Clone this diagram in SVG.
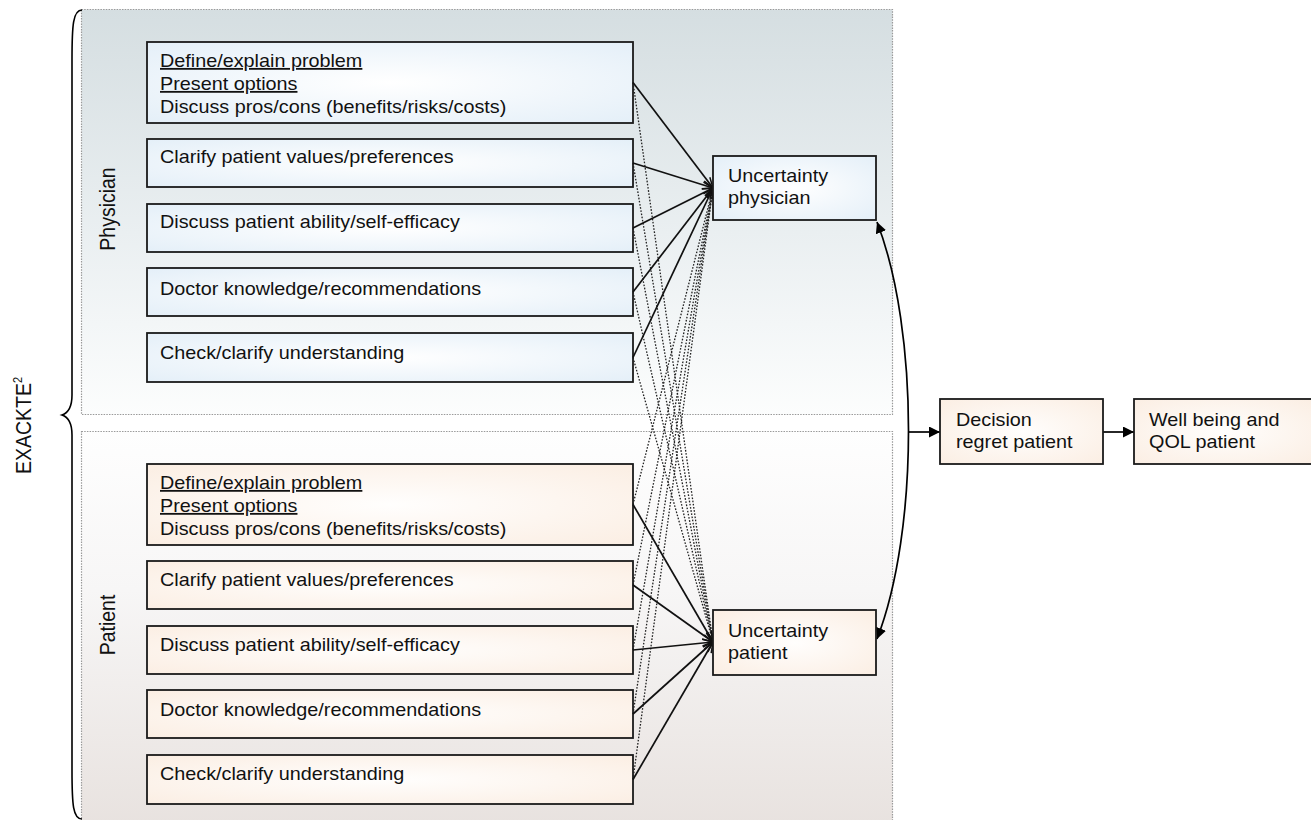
<svg xmlns="http://www.w3.org/2000/svg" width="1311" height="820" viewBox="0 0 1311 820">
<style>
.t{font-family:"Liberation Sans",Arial,sans-serif;font-size:18px;fill:#111}
.lab{font-family:"Liberation Sans",Arial,sans-serif;font-size:19.5px;fill:#111}
.u{text-decoration:underline}
.box{stroke:#1a1a1a;stroke-width:1.8}
.blue{fill:url(#gBlue)}
.peach{fill:url(#gPeach)}
.panel{stroke:#9a9a9a;stroke-width:1.2;stroke-dasharray:1.5 1.2}
.solid{fill:none;stroke:#111;stroke-width:1.7;marker-end:url(#open)}
.dot{fill:none;stroke:#222;stroke-width:1.3;stroke-dasharray:1.6 1.6;marker-end:url(#open)}
.arr{fill:none;stroke:#000;stroke-width:1.7}
</style>
<defs>
<linearGradient id="gTop" x1="0" y1="0" x2="0" y2="1">
<stop offset="0" stop-color="#d5dee1"/>
<stop offset="0.55" stop-color="#eaeff1"/>
<stop offset="1" stop-color="#fcfdfd"/>
</linearGradient>
<linearGradient id="gBot" x1="0" y1="0" x2="0" y2="1">
<stop offset="0" stop-color="#fefefe"/>
<stop offset="0.4" stop-color="#f7f6f6"/>
<stop offset="1" stop-color="#e8e2df"/>
</linearGradient>
<radialGradient id="gBlue" cx="0.5" cy="0.5" r="0.7">
<stop offset="0" stop-color="#ffffff"/>
<stop offset="1" stop-color="#e4eff8"/>
</radialGradient>
<radialGradient id="gPeach" cx="0.5" cy="0.5" r="0.7">
<stop offset="0" stop-color="#fffefd"/>
<stop offset="1" stop-color="#fbeee3"/>
</radialGradient>
<marker id="open" viewBox="0 0 12 10" refX="11.5" refY="5" markerWidth="12" markerHeight="10" markerUnits="userSpaceOnUse" orient="auto">
<path d="M1,1 L11.5,5 L1,9" fill="none" stroke="#111" stroke-width="1.5"/>
</marker>
<marker id="tri" viewBox="0 0 10 10" refX="10" refY="5" markerWidth="11" markerHeight="11" markerUnits="userSpaceOnUse" orient="auto-start-reverse">
<path d="M0,0 L10,5 L0,10z" fill="#000"/>
</marker>
</defs>

<g id="panels">
<rect class="panel" x="81.5" y="9.5" width="811" height="405" fill="url(#gTop)"/>
<rect class="panel" x="81.5" y="431.5" width="811" height="395" fill="url(#gBot)"/>
</g>

<g id="brace-label">
<path d="M82,10 C73,10 72,25 72,60 L72,395 C72,408 68,413 62,415 C68,417 72,422 72,435 L72,770 C72,805 73,819 82,819" fill="none" stroke="#000" stroke-width="1.6"/>
<text class="lab" transform="translate(31 474) scale(1.1 1) rotate(-90)">EXACKTE<tspan font-size="11" dy="-8">2</tspan></text>
<text class="lab" text-anchor="middle" transform="translate(115 209) scale(1.1 1) rotate(-90)">Physician</text>
<text class="lab" text-anchor="middle" transform="translate(115 625) scale(1.1 1) rotate(-90)">Patient</text>
</g>

<g id="phys1"><rect class="box blue" x="147" y="42" width="486" height="81"/>
<text class="t" transform="translate(160 67) scale(1.1 1)"><tspan x="0" y="0" class="u">Define/explain problem</tspan><tspan x="0" y="23" class="u">Present options</tspan><tspan x="0" y="46">Discuss pros/cons (benefits/risks/costs)</tspan></text></g>
<g id="phys2"><rect class="box blue" x="147" y="139" width="486" height="48"/>
<text class="t" transform="translate(160 163) scale(1.1 1)">Clarify patient values/preferences</text></g>
<g id="phys3"><rect class="box blue" x="147" y="204" width="486" height="48"/>
<text class="t" transform="translate(160 228) scale(1.1 1)">Discuss patient ability/self-efficacy</text></g>
<g id="phys4"><rect class="box blue" x="147" y="268" width="486" height="48"/>
<text class="t" transform="translate(160 295) scale(1.1 1)">Doctor knowledge/recommendations</text></g>
<g id="phys5"><rect class="box blue" x="147" y="333" width="486" height="49"/>
<text class="t" transform="translate(160 359) scale(1.1 1)">Check/clarify understanding</text></g>

<g id="pat1"><rect class="box peach" x="147" y="464" width="486" height="81"/>
<text class="t" transform="translate(160 489) scale(1.1 1)"><tspan x="0" y="0" class="u">Define/explain problem</tspan><tspan x="0" y="23" class="u">Present options</tspan><tspan x="0" y="46">Discuss pros/cons (benefits/risks/costs)</tspan></text></g>
<g id="pat2"><rect class="box peach" x="147" y="561" width="486" height="48"/>
<text class="t" transform="translate(160 586) scale(1.1 1)">Clarify patient values/preferences</text></g>
<g id="pat3"><rect class="box peach" x="147" y="626" width="486" height="48"/>
<text class="t" transform="translate(160 651) scale(1.1 1)">Discuss patient ability/self-efficacy</text></g>
<g id="pat4"><rect class="box peach" x="147" y="690" width="486" height="48"/>
<text class="t" transform="translate(160 716) scale(1.1 1)">Doctor knowledge/recommendations</text></g>
<g id="pat5"><rect class="box peach" x="147" y="755" width="486" height="49"/>
<text class="t" transform="translate(160 780) scale(1.1 1)">Check/clarify understanding</text></g>

<g id="connectors">
<line class="dot" x1="633" y1="82.5" x2="713" y2="642"/>
<line class="dot" x1="633" y1="163" x2="713" y2="642"/>
<line class="dot" x1="633" y1="228" x2="713" y2="642"/>
<line class="dot" x1="633" y1="292" x2="713" y2="642"/>
<line class="dot" x1="633" y1="357.5" x2="713" y2="642"/>
<line class="dot" x1="633" y1="504.5" x2="713" y2="188"/>
<line class="dot" x1="633" y1="585" x2="713" y2="188"/>
<line class="dot" x1="633" y1="650" x2="713" y2="188"/>
<line class="dot" x1="633" y1="714" x2="713" y2="188"/>
<line class="dot" x1="633" y1="779.5" x2="713" y2="188"/>
<line class="solid" x1="633" y1="82.5" x2="713" y2="188"/>
<line class="solid" x1="633" y1="163" x2="713" y2="188"/>
<line class="solid" x1="633" y1="228" x2="713" y2="188"/>
<line class="solid" x1="633" y1="292" x2="713" y2="188"/>
<line class="solid" x1="633" y1="357.5" x2="713" y2="188"/>
<line class="solid" x1="633" y1="504.5" x2="713" y2="642"/>
<line class="solid" x1="633" y1="585" x2="713" y2="642"/>
<line class="solid" x1="633" y1="650" x2="713" y2="642"/>
<line class="solid" x1="633" y1="714" x2="713" y2="642"/>
<line class="solid" x1="633" y1="779.5" x2="713" y2="642"/>
<path class="arr" d="M877,222 C919,330 919,531 877,639" marker-start="url(#tri)" marker-end="url(#tri)"/>
<line class="arr" x1="908.5" y1="432" x2="940" y2="432" marker-end="url(#tri)"/>
<line class="arr" x1="1103" y1="432" x2="1134" y2="432" marker-end="url(#tri)"/>
</g>

<g id="unc-phys"><rect class="box blue" x="713" y="156" width="163" height="64"/>
<text class="t" transform="translate(728 182) scale(1.1 1)"><tspan x="0" y="0">Uncertainty</tspan><tspan x="0" y="22">physician</tspan></text></g>
<g id="unc-pat"><rect class="box peach" x="713" y="610" width="163" height="65"/>
<text class="t" transform="translate(728 637) scale(1.1 1)"><tspan x="0" y="0">Uncertainty</tspan><tspan x="0" y="22">patient</tspan></text></g>
<g id="regret"><rect class="box peach" x="940" y="399" width="163" height="65"/>
<text class="t" transform="translate(956 426) scale(1.1 1)"><tspan x="0" y="0">Decision</tspan><tspan x="0" y="22">regret patient</tspan></text></g>
<g id="qol"><rect class="box peach" x="1134" y="399" width="180" height="65"/>
<text class="t" transform="translate(1149 426) scale(1.1 1)"><tspan x="0" y="0">Well being and</tspan><tspan x="0" y="22">QOL patient</tspan></text></g>
</svg>
